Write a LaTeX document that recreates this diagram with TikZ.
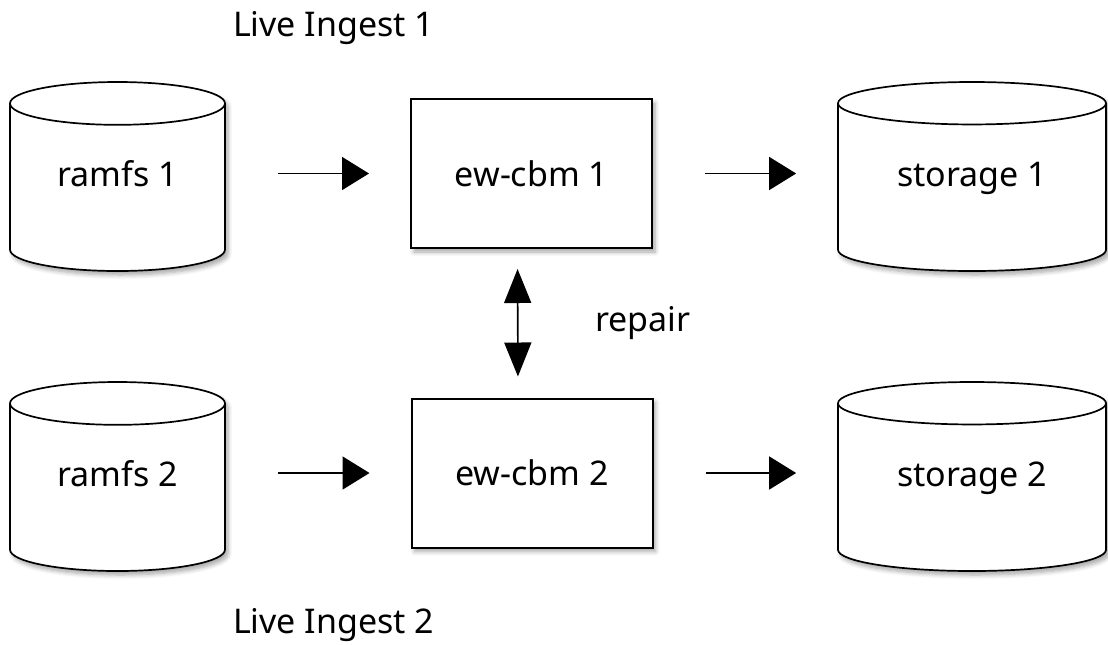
\documentclass[tikz,border=0pt]{standalone}
\usepackage{fontspec}
\setmainfont{Noto Sans}
\usetikzlibrary{positioning,shapes.geometric,arrows.meta,shadows.blur}

\tikzset{
	shade/.style={blur shadow={shadow blur steps=6,shadow xshift=1.5pt,shadow yshift=-2pt,shadow opacity=35}},
	disk/.style={shape=cylinder,shape border rotate=90,draw,line width=0.85pt,fill=white,shade,
		minimum height=94.5pt,anchor=shape center,text height=13pt,text depth=17.5pt},
	box/.style={rectangle,draw,line width=1pt,fill=white,shade,minimum width=120.5pt,minimum height=74.5pt},
	flow/.style={line width=0.8pt,-{Triangle[length=13.5pt,width=16.5pt]},shorten <=26pt,shorten >=20.5pt},
	both/.style={line width=0.8pt,{Triangle[length=17pt,width=13.5pt]}-{Triangle[length=17pt,width=13.5pt]},shorten <=10pt,shorten >=10.5pt}
}

\begin{document}
\begin{tikzpicture}[x=0.5pt,y=-0.5pt,font=\fontsize{17}{20}\selectfont]
	\useasboundingbox (0,0) rectangle (1108,644);
	
	\node[disk,minimum width=107.5pt,aspect=0.32] (ramfs1) at (117.5,176.5) {ramfs 1};
	\node[box] (cbm1) at (531.5,173.5) {ew-cbm 1};
	\node[disk,minimum width=134pt,aspect=0.26] (storage1) at (972,176.5) {storage 1};
	
	\node[disk,minimum width=107.5pt,aspect=0.32] (ramfs2) at (117.5,476.5) {ramfs 2};
	\node[box] (cbm2) at (532,473) {ew-cbm 2};
	\node[disk,minimum width=134pt,aspect=0.26] (storage2) at (972,476.5) {storage 2};
	
	\node[anchor=west] (ingest1) at (226,28) {Live Ingest 1};
	\node[anchor=west] (ingest2) at (226,625) {Live Ingest 2};
	
	\draw[flow] (ramfs1.east |- cbm1.west) -- (cbm1.west);
	\draw[flow] (cbm1.east) -- (storage1.west |- cbm1.east);
	\draw[flow] (ramfs2.east |- cbm2.west) -- (cbm2.west);
	\draw[flow] (cbm2.east) -- (storage2.west |- cbm2.east);
	
	\draw[both] ([xshift=-7pt]cbm1.south) -- node[right=35pt] (repair) {repair} ([xshift=-7pt]cbm2.north);
	
\end{tikzpicture}
\end{document}
